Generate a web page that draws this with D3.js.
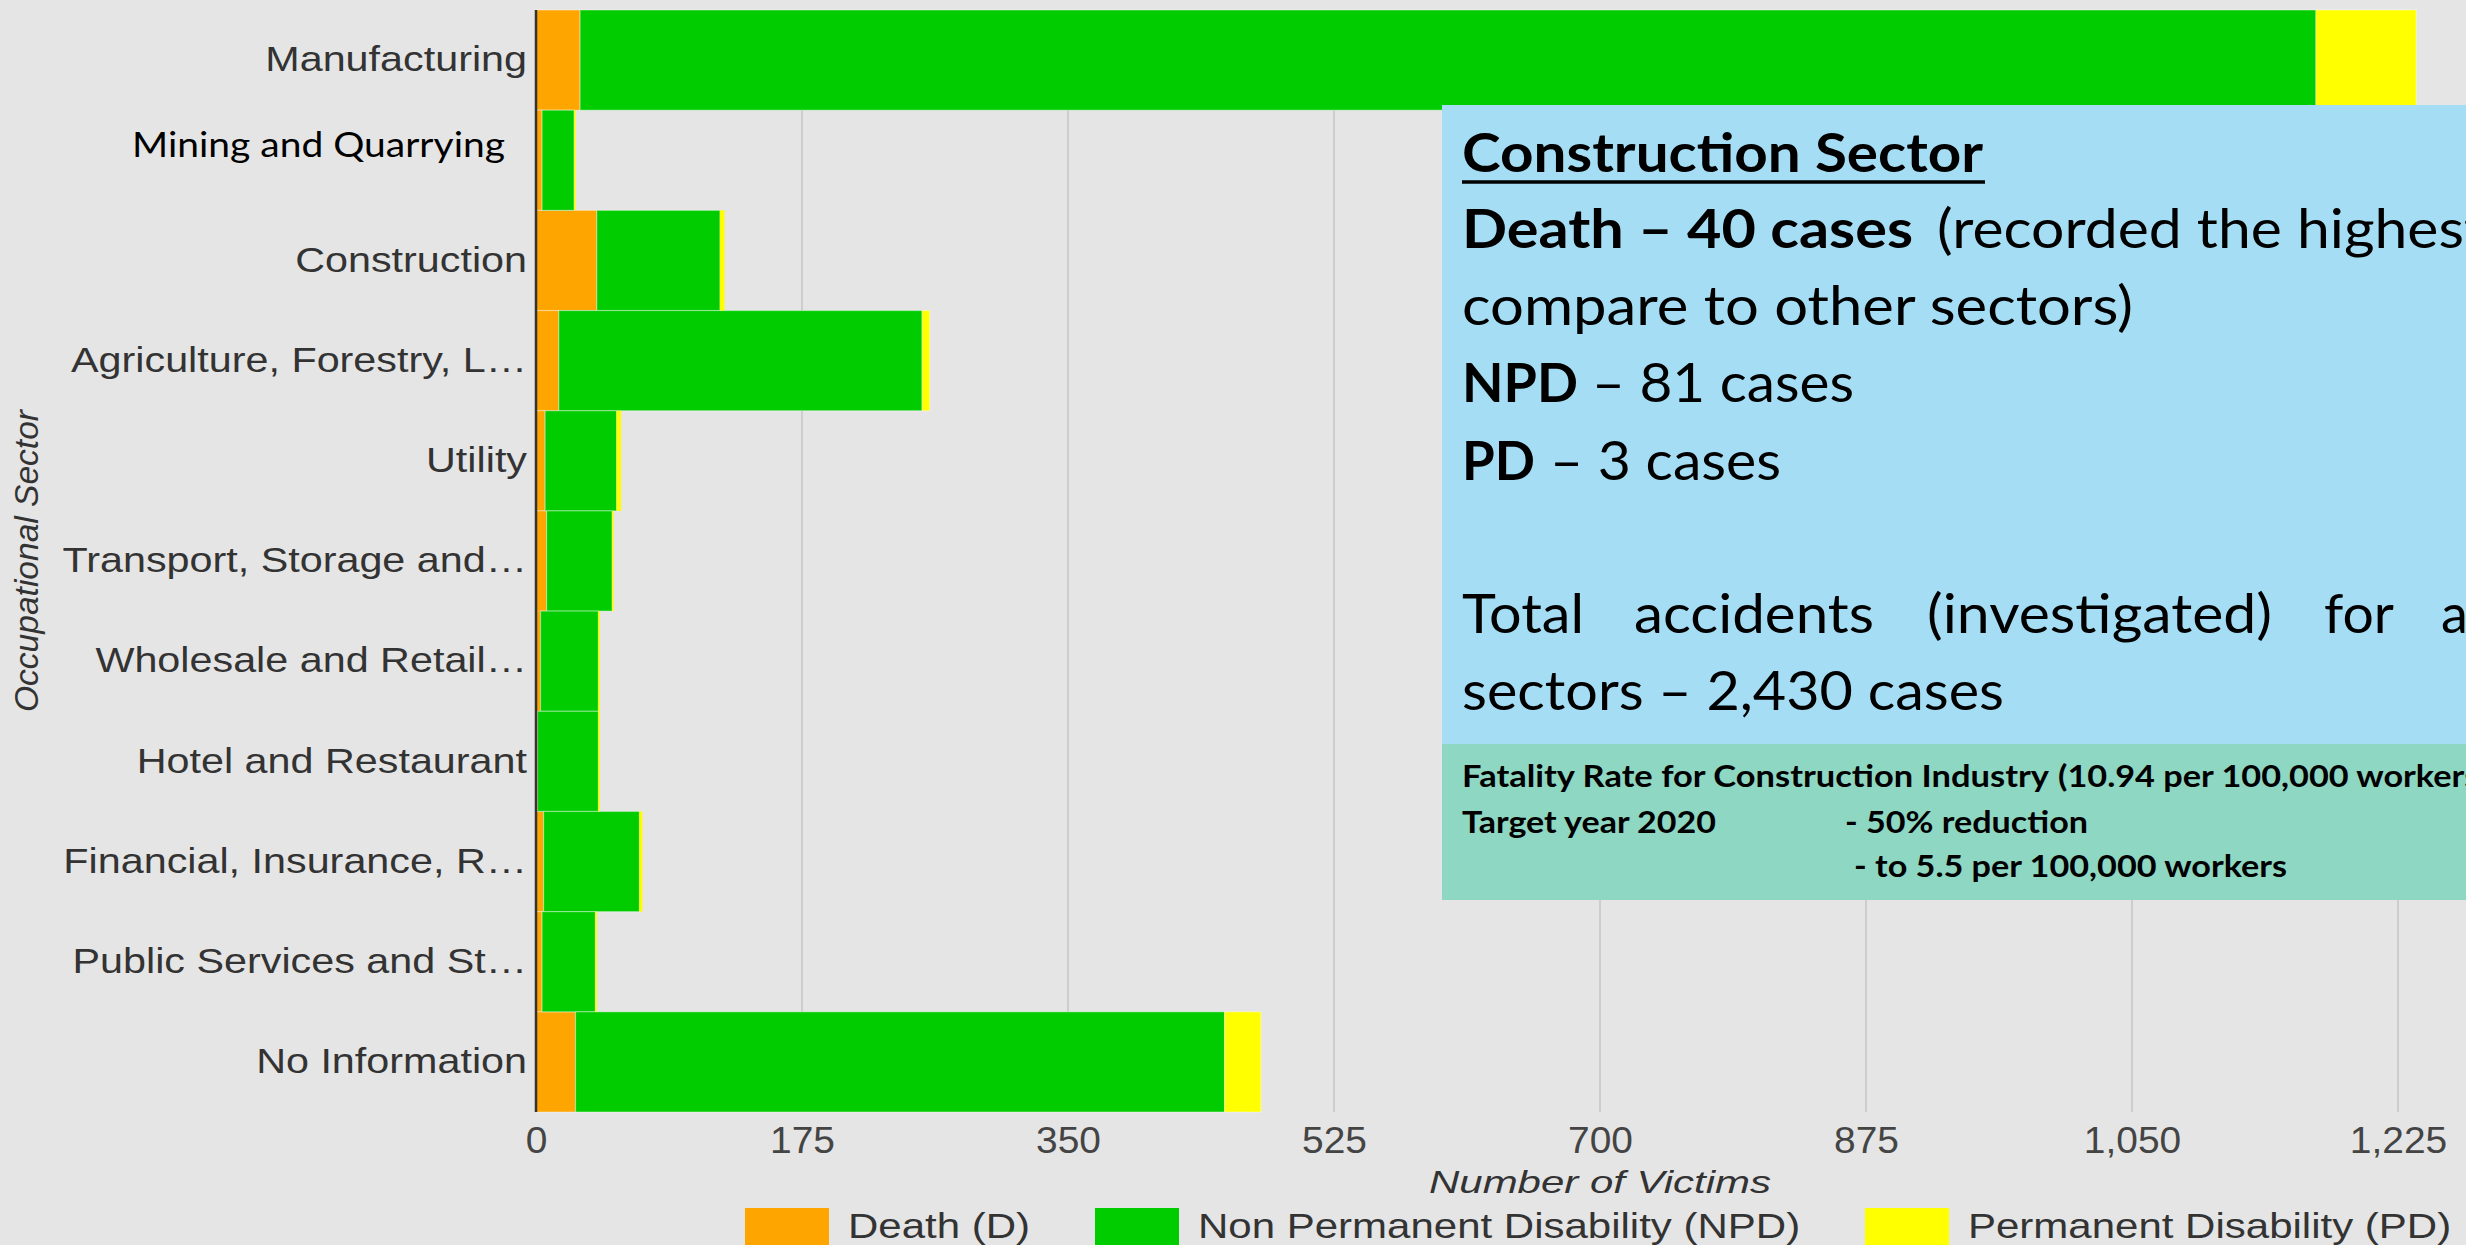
<!DOCTYPE html>
<html><head><meta charset="utf-8">
<script src="https://cdn.jsdelivr.net/npm/d3@7"></script>
<style>
html,body{margin:0;padding:0;background:#e5e5e5;overflow:hidden}
svg{display:block}
</style></head><body>
<svg id="c" width="2466" height="1245"></svg>
<script>
// ---------- data ----------
const categories = ["Manufacturing","Mining and Quarrying","Construction","Agriculture, Forestry, L…","Utility","Transport, Storage and…","Wholesale and Retail…","Hotel and Restaurant","Financial, Insurance, R…","Public Services and St…","No Information"];
const seriesKeys = ["death","npd","pd"];
const seriesNames = ["Death (D)","Non Permanent Disability (NPD)","Permanent Disability (PD)"];
const death = [29, 4, 40, 15, 6, 7, 3, 1, 5, 4, 26];
const npd   = [1142, 21, 81, 239, 47, 43, 38, 40, 63, 35, 427];
const pd    = [66, 1, 3, 5, 3, 1, 1, 1, 2, 1, 24];
const xTickValues = [0,175,350,525,700,875,1050,1225];
const xMax = 1400;
const colors = ["#ffa500","#00cc00","#ffff00"];

// ---------- setup ----------
const W = 2466, H = 1245;
const svg = d3.select("#c");
svg.append("rect").attr("width",W).attr("height",H).attr("fill","#e5e5e5");
const plot = {left:536, top:10, bottom:1112, right:2664};
const x = d3.scaleLinear().domain([0,xMax]).range([plot.left, plot.right]);
const y = d3.scaleBand().domain(categories).range([plot.top, plot.bottom]).padding(0);
const ARIAL = "'Liberation Sans', Arial, sans-serif";

function stretch(sel, k){
  sel.each(function(){
    const l = this.getComputedTextLength();
    this.setAttribute("textLength", l*k);
    this.setAttribute("lengthAdjust","spacingAndGlyphs");
  });
}

// gridlines
svg.append("g").selectAll("line").data(xTickValues.filter(d=>d>0)).join("line")
  .attr("x1",d=>x(d)).attr("x2",d=>x(d)).attr("y1",plot.top).attr("y2",plot.bottom)
  .attr("stroke","#c4c4c4").attr("stroke-width",1.5);

// stacked bars
const rows = categories.map((c,i)=>({cat:c, death:death[i], npd:npd[i], pd:pd[i]}));
const stacked = d3.stack().keys(seriesKeys)(rows);
svg.append("g").selectAll("g").data(stacked).join("g").attr("fill",(d,i)=>colors[i])
  .selectAll("rect").data(d=>d).join("rect")
  .attr("x",d=>x(d[0])).attr("width",d=>x(d[1])-x(d[0]))
  .attr("y",d=>y(d.data.cat)).attr("height",y.bandwidth())
  .attr("stroke",d=>(x(d[1])-x(d[0]))>6?"#ffffff":"none")
  .attr("stroke-opacity",0.35).attr("stroke-width",1.2);

// x axis
const xAxis = svg.append("g").attr("transform",`translate(0,${plot.bottom})`)
  .call(d3.axisBottom(x).tickValues(xTickValues).tickSize(0).tickPadding(15.5).tickFormat(d3.format(",")));
xAxis.select(".domain").remove();
xAxis.selectAll("text").attr("font-family",ARIAL).attr("font-size",36).attr("fill","#444");
stretch(xAxis.selectAll("text"),1.08);

// y axis
const yAxis = svg.append("g").attr("transform",`translate(${plot.left},0)`)
  .call(d3.axisLeft(y).tickSize(0).tickPadding(9));
yAxis.select(".domain").remove();
yAxis.selectAll("text").attr("font-family",ARIAL).attr("font-size",35).attr("fill","#333");
stretch(yAxis.selectAll("text").filter(d=>d!=="Mining and Quarrying"),1.18);
yAxis.selectAll("text").filter(d=>d==="Mining and Quarrying")
  .attr("font-family","Lato, 'Open Sans', sans-serif").attr("fill","#000").attr("font-size",35)
  .attr("x",-31).attr("dy","-3px")
  .attr("textLength",373).attr("lengthAdjust","spacingAndGlyphs");

// axis line
svg.append("line").attr("x1",plot.left).attr("x2",plot.left).attr("y1",plot.top).attr("y2",plot.bottom)
  .attr("stroke","#333").attr("stroke-width",2.5);

// axis titles
svg.append("text").attr("x",x(xMax/2)).attr("y",1193).attr("text-anchor","middle")
  .attr("font-family",ARIAL).attr("font-style","italic").attr("font-size",32).attr("fill","#333")
  .attr("textLength",342).attr("lengthAdjust","spacingAndGlyphs").text("Number of Victims");
svg.append("text").attr("transform",`translate(38,${(plot.top+plot.bottom)/2}) rotate(-90)`)
  .attr("text-anchor","middle").attr("font-family",ARIAL).attr("font-style","italic")
  .attr("font-size",33).attr("fill","#333").attr("textLength",302).attr("lengthAdjust","spacingAndGlyphs")
  .text("Occupational Sector");

// legend
const legendX = [745,1095,1865];
const lg = svg.append("g").selectAll("g").data(seriesNames).join("g")
  .attr("transform",(d,i)=>`translate(${legendX[i]},1208)`);
lg.append("rect").attr("width",84).attr("height",40).attr("fill",(d,i)=>colors[i]);
const lt = lg.append("text").attr("x",103).attr("y",30).attr("font-family",ARIAL).attr("font-size",35)
  .attr("fill","#333").text(d=>d);
stretch(lt,1.2);

// ---------- annotation overlay ----------
svg.append("rect").attr("x",1442).attr("y",105).attr("width",W-1442).attr("height",639).attr("fill","#a5def4");
svg.append("rect").attr("x",1442).attr("y",744).attr("width",W-1442).attr("height",156).attr("fill","#8ed7c3");
const LATO = "Lato, 'Open Sans', sans-serif";
function note(str, xx, yy, size, weight, len){
  const t = svg.append("text").attr("x",xx).attr("y",yy).attr("font-family",LATO)
    .attr("font-size",size).attr("font-weight",weight).attr("fill","#000").text(str);
  if(len) t.attr("textLength",len).attr("lengthAdjust","spacingAndGlyphs");
  return t;
}
note("Construction Sector",1462,172,54,700,521);
svg.append("line").attr("x1",1462).attr("x2",1985).attr("y1",182).attr("y2",182).attr("stroke","#000").attr("stroke-width",3.5);
note("Death – 40 cases",1462,248,54,700,451);
note("(recorded the highest",1937,248,54,400,548);
note("compare to other sectors)",1462,325,54,400,671);
note("NPD",1462,402,54,700,116);
note("– 81 cases",1592,402,54,400,262);
note("PD",1462,480,54,700,73);
note("– 3 cases",1550,480,54,400,231);
note("Total",1462,633,54,400,122);
note("accidents",1634,633,54,400,240);
note("(investigated)",1927,633,54,400,345);
note("for",2324,633,54,400,70);
note("all",2441,633,54,400,null);
note("sectors – 2,430 cases",1462,710,54,400,542);
note("Fatality Rate for Construction Industry",1462,787,31,700,587);
note("(10.94 per 100,000 workers)",2058,787,31,700,430);
note("Target year 2020",1462,833,31,700,254);
note("- 50% reduction",1845,833,31,700,243);
note("- to 5.5 per 100,000 workers",1854,877,31,700,433);
</script>
</body></html>
